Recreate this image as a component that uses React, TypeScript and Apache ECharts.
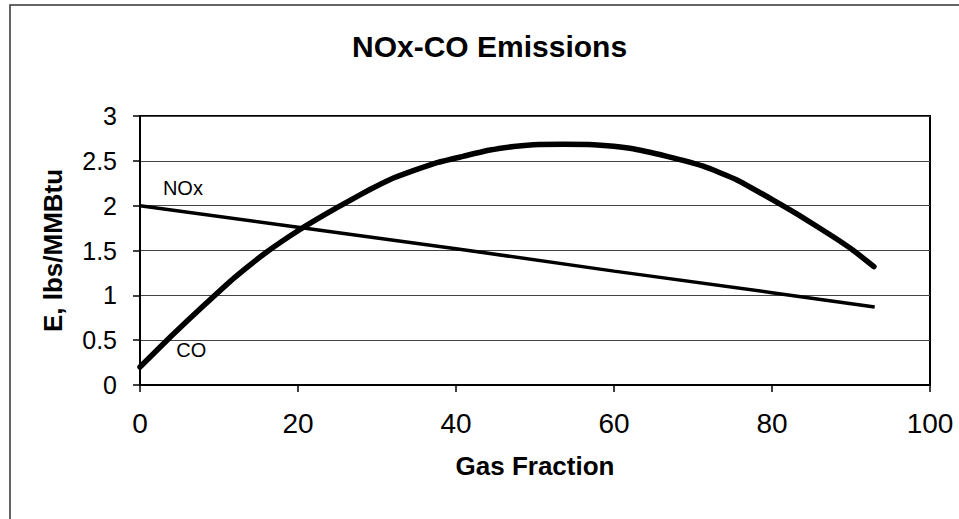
import React, { useEffect, useRef } from "react";
import * as echarts from "echarts";

const xTicks = [0, 20, 40, 60, 80, 100];
const yTicks = [0, 0.5, 1, 1.5, 2, 2.5, 3];

const noxX = [0, 20, 40, 60, 80, 93];
const noxY = [2.0, 1.76, 1.52, 1.27, 1.03, 0.87];

const coX = [0, 4, 8, 12, 16, 20, 23.6, 26.6, 29.1, 31.6, 34.6, 37.6, 40.9, 44.3, 47.3, 49.8, 53.6, 57.4, 62, 66.7, 71.3, 75.5, 80.2, 83.5, 87.8, 90.3, 92.9];
const coY = [0.2, 0.55, 0.88, 1.2, 1.48, 1.72, 1.91, 2.06, 2.18, 2.29, 2.39, 2.48, 2.55, 2.62, 2.66, 2.68, 2.685, 2.68, 2.64, 2.55, 2.44, 2.29, 2.06, 1.89, 1.65, 1.5, 1.32];

const noxLabelAt = [2.9, 2.2];
const coLabelAt = [4.6, 0.385];

const FONT = "'Liberation Sans', Arial, sans-serif";

export default function App() {
  const ref = useRef<HTMLDivElement>(null);
  useEffect(() => {
    if (!ref.current) return;
    const chart = echarts.init(ref.current, null, { renderer: "svg" });
    const label = (name: string, at: number[]) => ({
      symbol: "circle",
      symbolSize: 0,
      silent: true,
      label: {
        show: true,
        formatter: name,
        position: "right",
        distance: 0,
        color: "#000",
        fontSize: 20,
        fontFamily: FONT,
      },
      data: [{ coord: at }],
    });
    chart.setOption({
      animation: false,
      backgroundColor: "#fff",
      title: {
        text: "NOx-CO Emissions",
        left: 347,
        top: 26,
        textStyle: { fontSize: 30, fontWeight: "bold", color: "#000", fontFamily: FONT },
      },
      graphic: [
        {
          type: "rect",
          shape: { x: 10, y: 5, width: 1000, height: 600 },
          style: { fill: "none", stroke: "#333", lineWidth: 1.5 },
          silent: true,
        },
      ],
      grid: {
        left: 140,
        top: 116,
        right: 29,
        bottom: 134,
        show: true,
        borderColor: "#000",
        borderWidth: 2,
        backgroundColor: "transparent",
      },
      xAxis: {
        type: "value",
        min: xTicks[0],
        max: xTicks[xTicks.length - 1],
        interval: 20,
        name: "Gas Fraction",
        nameLocation: "middle",
        nameGap: 68,
        nameTextStyle: { fontSize: 26, fontWeight: "bold", color: "#000", fontFamily: FONT },
        axisLine: { show: true, lineStyle: { color: "#000", width: 2 } },
        axisTick: { show: true, length: 7, lineStyle: { color: "#000", width: 1.5 } },
        axisLabel: { fontSize: 28, color: "#000", fontFamily: FONT, margin: 24 },
        splitLine: { show: false },
      },
      yAxis: {
        type: "value",
        min: yTicks[0],
        max: yTicks[yTicks.length - 1],
        interval: 0.5,
        name: "E, lbs/MMBtu",
        nameLocation: "middle",
        nameGap: 74,
        nameTextStyle: { fontSize: 26, fontWeight: "bold", color: "#000", fontFamily: FONT },
        axisLine: { show: true, lineStyle: { color: "#000", width: 2 } },
        axisTick: { show: true, length: 7, lineStyle: { color: "#000", width: 1.5 } },
        axisLabel: { fontSize: 25, color: "#000", fontFamily: FONT, margin: 23 },
        splitLine: { show: true, lineStyle: { color: "#444", width: 1 } },
      },
      series: [
        {
          name: "NOx",
          type: "line",
          data: noxX.map((x, i) => [x, noxY[i]]),
          showSymbol: false,
          lineStyle: { color: "#000", width: 3.5 },
          markPoint: label("NOx", noxLabelAt),
        },
        {
          name: "CO",
          type: "line",
          data: coX.map((x, i) => [x, coY[i]]),
          showSymbol: false,
          smooth: 0.15,
          lineStyle: { color: "#000", width: 5.5, cap: "round", join: "round" },
          markPoint: label("CO", coLabelAt),
        },
      ],
    });
    return () => chart.dispose();
  }, []);
  return (
    <div
      ref={ref}
      style={{ position: "fixed", left: 0, top: 0, width: 959, height: 519 }}
    />
  );
}
